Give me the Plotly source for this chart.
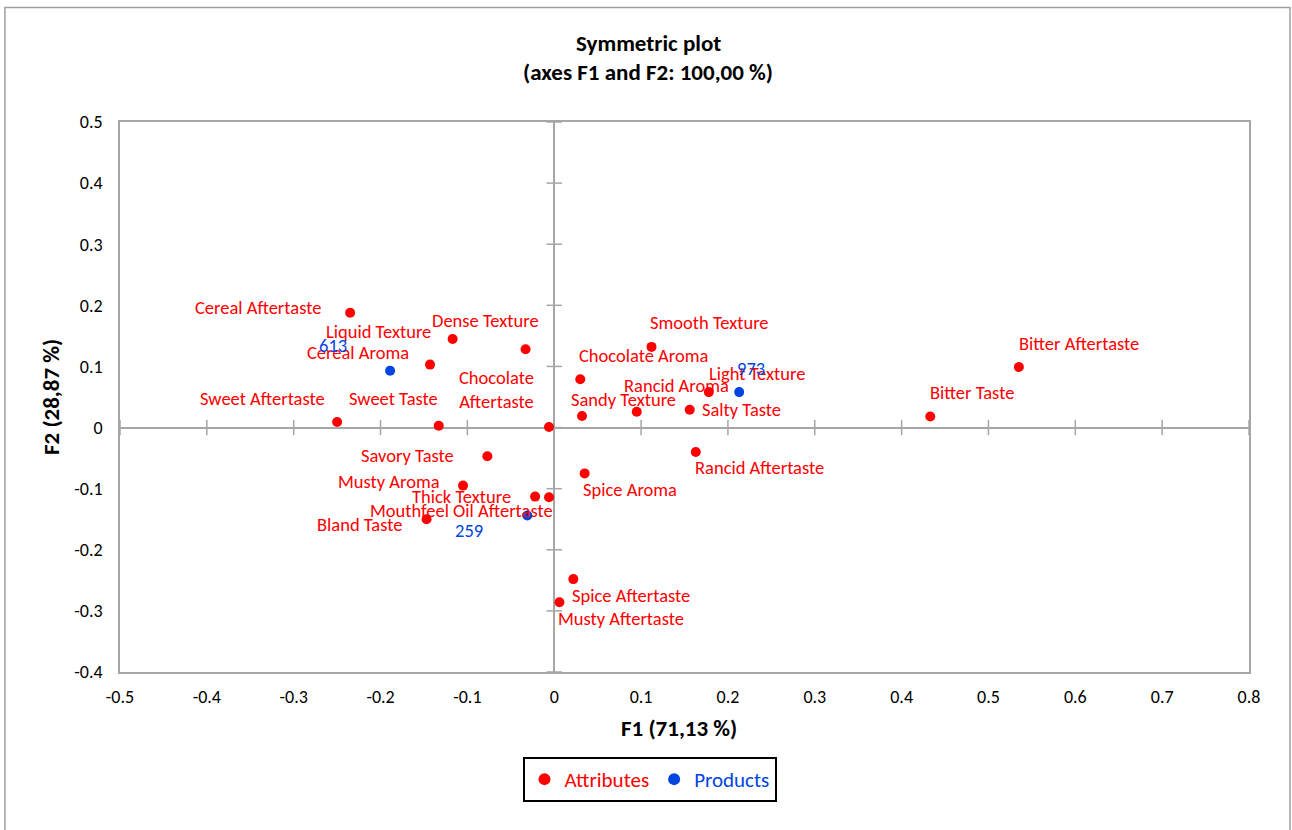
import plotly.graph_objects as go

# Correspondence analysis coordinates (symmetric plot, F1 x F2)
attr_names = [
    "Cereal Aftertaste", "Dense Texture", "Liquid Texture", "Cereal Aroma",
    "Sweet Aftertaste", "Sweet Taste", "Chocolate Aftertaste", "Chocolate Aroma",
    "Sandy Texture", "Rancid Aroma", "Smooth Texture", "Light Texture",
    "Salty Taste", "Rancid Aftertaste", "Spice Aroma", "Mouthfeel Oil Aftertaste",
    "Thick Texture", "Savory Taste", "Musty Aroma", "Bland Taste",
    "Spice Aftertaste", "Musty Aftertaste", "Bitter Aftertaste", "Bitter Taste",
]
attr_f1 = [-0.235, -0.117, -0.033, -0.143, -0.250, -0.133, -0.006, 0.030,
           0.032, 0.095, 0.112, 0.178, 0.156, 0.163, 0.035, -0.006,
           -0.022, -0.077, -0.105, -0.147, 0.022, 0.006, 0.535, 0.433]
attr_f2 = [0.188, 0.145, 0.128, 0.103, 0.009, 0.003, 0.001, 0.079,
           0.019, 0.026, 0.132, 0.058, 0.029, -0.040, -0.075, -0.114,
           -0.113, -0.047, -0.095, -0.150, -0.248, -0.286, 0.099, 0.018]

prod_names = ["613", "973", "259"]
prod_f1 = [-0.189, 0.213, -0.031]
prod_f2 = [0.093, 0.058, -0.144]

x_ticks = [-0.5, -0.4, -0.3, -0.2, -0.1, 0, 0.1, 0.2, 0.3, 0.4, 0.5, 0.6, 0.7, 0.8]
y_ticks = [-0.4, -0.3, -0.2, -0.1, 0, 0.1, 0.2, 0.3, 0.4, 0.5]

# Label placement relative to each point, in pixels (dx right, dy down)
label_offsets = {
    "Cereal Aftertaste": (-92, -5), "Dense Texture": (33, -18),
    "Liquid Texture": (-147, -18), "Cereal Aroma": (-72, -12),
    "Sweet Aftertaste": (-75, -24), "Sweet Taste": (-45, -27),
    "Chocolate Aftertaste": (-53, -37), "Chocolate Aroma": (63, -24),
    "Sandy Texture": (41, -16), "Rancid Aroma": (40, -26),
    "Smooth Texture": (58, -24), "Light Texture": (48, -19),
    "Salty Taste": (52, 0), "Rancid Aftertaste": (64, 15),
    "Spice Aroma": (45, 16), "Mouthfeel Oil Aftertaste": (-88, 13),
    "Thick Texture": (-74, 0), "Savory Taste": (-80, -1),
    "Musty Aroma": (-74, -4), "Bland Taste": (-67, 5),
    "Spice Aftertaste": (58, 16), "Musty Aftertaste": (62, 16),
    "Bitter Aftertaste": (60, -24), "Bitter Taste": (42, -24),
    "613": (-57, -25), "973": (12, -24), "259": (-58, 15),
}

RED = "#FF0000"
BLUE = "#0045E0"
GRID = "#A6A6A6"
FONT = "Carlito, Lato, sans-serif"
LABEL_SIZE = 18.5

fig = go.Figure()

# Tick marks crossing the zero axes
fig.add_trace(go.Scatter(
    x=x_ticks, y=[0] * len(x_ticks), mode="markers",
    marker=dict(symbol="line-ns-open", size=11, color=GRID, line=dict(color=GRID, width=1.5)),
    showlegend=False, hoverinfo="skip"))
fig.add_trace(go.Scatter(
    x=[0] * len(y_ticks), y=y_ticks, mode="markers",
    marker=dict(symbol="line-ew-open", size=11, color=GRID, line=dict(color=GRID, width=1.5)),
    showlegend=False, hoverinfo="skip"))

fig.add_trace(go.Scatter(
    x=attr_f1, y=attr_f2, mode="markers",
    name=f"<span style='color:{RED}'>Attributes</span>",
    marker=dict(color=RED, size=10), text=attr_names, hoverinfo="text"))
fig.add_trace(go.Scatter(
    x=prod_f1, y=prod_f2, mode="markers",
    name=f"<span style='color:{BLUE}'>Products</span>",
    marker=dict(color=BLUE, size=10), text=prod_names, hoverinfo="text"))

annotations = []
for names, xs, ys, col in ((attr_names, attr_f1, attr_f2, RED),
                           (prod_names, prod_f1, prod_f2, BLUE)):
    for n, xv, yv in zip(names, xs, ys):
        dx, dy = label_offsets[n]
        txt = "Chocolate<br>Aftertaste" if n == "Chocolate Aftertaste" else n
        annotations.append(dict(
            x=xv, y=yv, xref="x", yref="y", text=txt, showarrow=False,
            xshift=dx, yshift=-dy, font=dict(family=FONT, size=LABEL_SIZE, color=col),
            xanchor="center", yanchor="middle"))

# Titles
TITLE_SIZE = 23
annotations += [
    dict(x=0.4677, y=1.1436, xref="paper", yref="paper", text="<b>Symmetric plot</b>",
         showarrow=False, font=dict(family=FONT, size=TITLE_SIZE, color="black"),
         xanchor="center", yanchor="middle"),
    dict(x=0.4677, y=1.0909, xref="paper", yref="paper",
         text="<b>(axes F1 and F2: 100,00 %)</b>",
         showarrow=False, font=dict(family=FONT, size=TITLE_SIZE, color="black"),
         xanchor="center", yanchor="middle"),
    dict(x=0.4955, y=-0.1018, xref="paper", yref="paper", text="<b>F1 (71,13 %)</b>",
         showarrow=False, font=dict(family=FONT, size=TITLE_SIZE, color="black"),
         xanchor="center", yanchor="middle"),
    dict(x=-0.0611, y=0.5, xref="paper", yref="paper", text="<b>F2 (28,87 %)</b>",
         showarrow=False, textangle=-90, font=dict(family=FONT, size=TITLE_SIZE, color="black"),
         xanchor="center", yanchor="middle"),
]

fig.update_layout(
    width=1292, height=830,
    margin=dict(l=120, r=43, t=122, b=158),
    paper_bgcolor="white", plot_bgcolor="white",
    font=dict(family=FONT, size=18, color="black"),
    annotations=annotations,
    showlegend=True,
    legend=dict(orientation="h", x=0.469, y=-0.1545, xanchor="center", yanchor="top",
                bordercolor="black", borderwidth=2, bgcolor="white",
                font=dict(family=FONT, size=21), itemsizing="constant",
                tracegroupgap=0),
    shapes=[dict(type="rect", xref="paper", yref="paper",
                 x0=-0.1019, x1=1.0363, y0=-0.3, y1=1.2082,
                 line=dict(color="#A0A0A0", width=1.5), layer="below")],
    hovermode="closest",
)
fig.update_xaxes(range=[-0.5, 0.8], tickvals=x_ticks, ticktext=[f"{v:g}" for v in x_ticks],
                 showgrid=False, zeroline=True, zerolinecolor=GRID, zerolinewidth=1.5,
                 showline=True, linecolor=GRID, linewidth=1.5, mirror=True,
                 ticks="", ticklabelstandoff=8, tickfont=dict(family=FONT, size=18))
fig.update_yaxes(range=[-0.4, 0.5], tickvals=y_ticks, ticktext=[f"{v:g}" for v in y_ticks],
                 showgrid=False, zeroline=True, zerolinecolor=GRID, zerolinewidth=1.5,
                 showline=True, linecolor=GRID, linewidth=1.5, mirror=True,
                 ticks="", ticklabelstandoff=12, tickfont=dict(family=FONT, size=18))

fig.write_html("out.html")
